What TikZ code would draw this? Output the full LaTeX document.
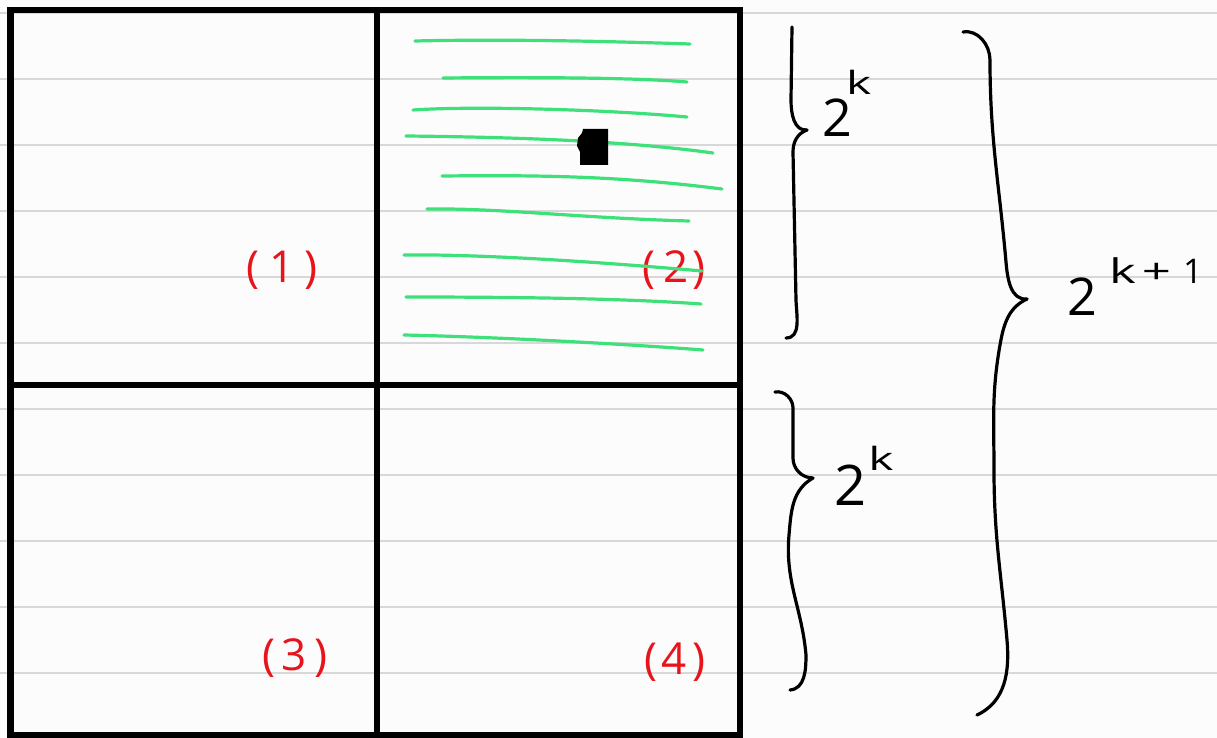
\documentclass[tikz,border=0pt]{standalone}
\usepackage{fontspec}
\setmainfont{Open Sans}
\newcommand\fsz[1]{\fontsize{#1}{#1}\selectfont}
\newcommand\wide[1]{\scalebox{1.5}[1]{#1}}
\definecolor{paper}{RGB}{252,252,252}
\definecolor{ruleg}{RGB}{216,216,216}
\definecolor{hlgreen}{RGB}{62,224,122}
\definecolor{redlbl}{RGB}{232,20,28}
\tikzset{
  frameline/.style={line width=3.2pt, black, line cap=rect},
  ruled/.style={line width=1pt, color=ruleg},
  gl/.style={line width=1.6pt, color=hlgreen, line cap=round},
  bracestroke/.style={line width=1.6pt, black, line cap=round, line join=round},
  lbl/.style={text=redlbl, inner sep=0pt, font=\fsz{22}},
  powlbl/.style={inner sep=0pt, anchor=base west},
}
\begin{document}
\begin{tikzpicture}[x=0.5pt,y=-0.5pt]
\useasboundingbox (0,0) rectangle (1217,738);
\fill[paper] (0,0) rectangle (1217,738);
% ruled paper lines
\foreach \yy in {13,79,145,211,277,343,409,475,541,607,673,739}
  \draw[ruled] (0,\yy) -- (1217,\yy);
% labels
\node[lbl] (l1) at (282,270) {(\hspace{5pt}1\hspace{5pt})};
\node[lbl] (l2) at (674,270) {(\hspace{4pt}2\hspace{2pt})};
\node[lbl] (l3) at (295,658) {(\hspace{3pt}3\hspace{4pt})};
\node[lbl] (l4) at (675,662) {(\hspace{2pt}4\hspace{3pt})};
% green hatching
\draw[gl] (415,41) .. controls (500,39) and (600,41) .. (690,44);
\draw[gl] (443,78) .. controls (550,77) and (640,78) .. (687,82);
\draw[gl] (413,110) .. controls (470,106) and (600,109) .. (687,117);
\draw[gl] (406,136) .. controls (500,137) and (620,140) .. (713,153);
\draw[gl] (442,176) .. controls (540,175) and (620,176) .. (722,189);
\draw[gl] (427,209) .. controls (500,208) and (580,218) .. (689,221);
\draw[gl] (404,255) .. controls (480,254) and (600,262) .. (702,271);
\draw[gl] (406,297) .. controls (500,297) and (620,298) .. (701,304);
\draw[gl] (404,335) .. controls (500,337) and (640,345) .. (703,350);
% black mark
\fill[black] (583,129) -- (608,129) -- (608,165) -- (580,165) -- (580,152)
  -- (577,146) -- (578,138) -- (582,133) -- cycle;
% frame
\draw[frameline] (10.5,10) rectangle (740,735.5);
\draw[frameline] (377,10) -- (377,735.5);
\draw[frameline] (10.5,385) -- (740,385);
% upper small brace
\draw[bracestroke] (792,27) -- (791,100) to[out=-90,in=185] (807,130);
\draw[bracestroke] (807,130) to[out=200,in=90] (793,152) -- (796,300)
  to[out=-88,in=0] (786,338);
% lower small brace
\draw[bracestroke] (775,392) to[out=10,in=90] (793,408) -- (793,458)
  to[out=-90,in=180] (813,478);
\draw[bracestroke] (813,478) to[out=210,in=85] (789,535) to[out=-95,in=95]
  (806,655) to[out=-90,in=5] (790,690);
% big brace
\draw[bracestroke] (963,32) to[out=10,in=90] (990,60) to[out=-90,in=95]
  (1006,262) to[out=-85,in=185] (1027,299);
\draw[bracestroke] (1027,299) to[out=205,in=80] (1000,345) to[out=-100,in=90]
  (994,470) to[out=-90,in=95] (1007,640) to[out=-85,in=25] (977,715);
% power labels
\node[powlbl] (kA) at (822,137) {\fsz{26}2\kern-3pt\raisebox{21pt}{\fsz{16}\wide{k}}};
\node[powlbl] (kB) at (834,505) {\fsz{28}2\kern1pt\raisebox{17.5pt}{\fsz{16}\wide{k}}};
\node[powlbl] (kC) at (1067,315) {\fsz{26}2\kern6pt\raisebox{16pt}{\fsz{17}\wide{k}\hspace{3pt}\wide{+}\hspace{6pt}1}};
\end{tikzpicture}
\end{document}
